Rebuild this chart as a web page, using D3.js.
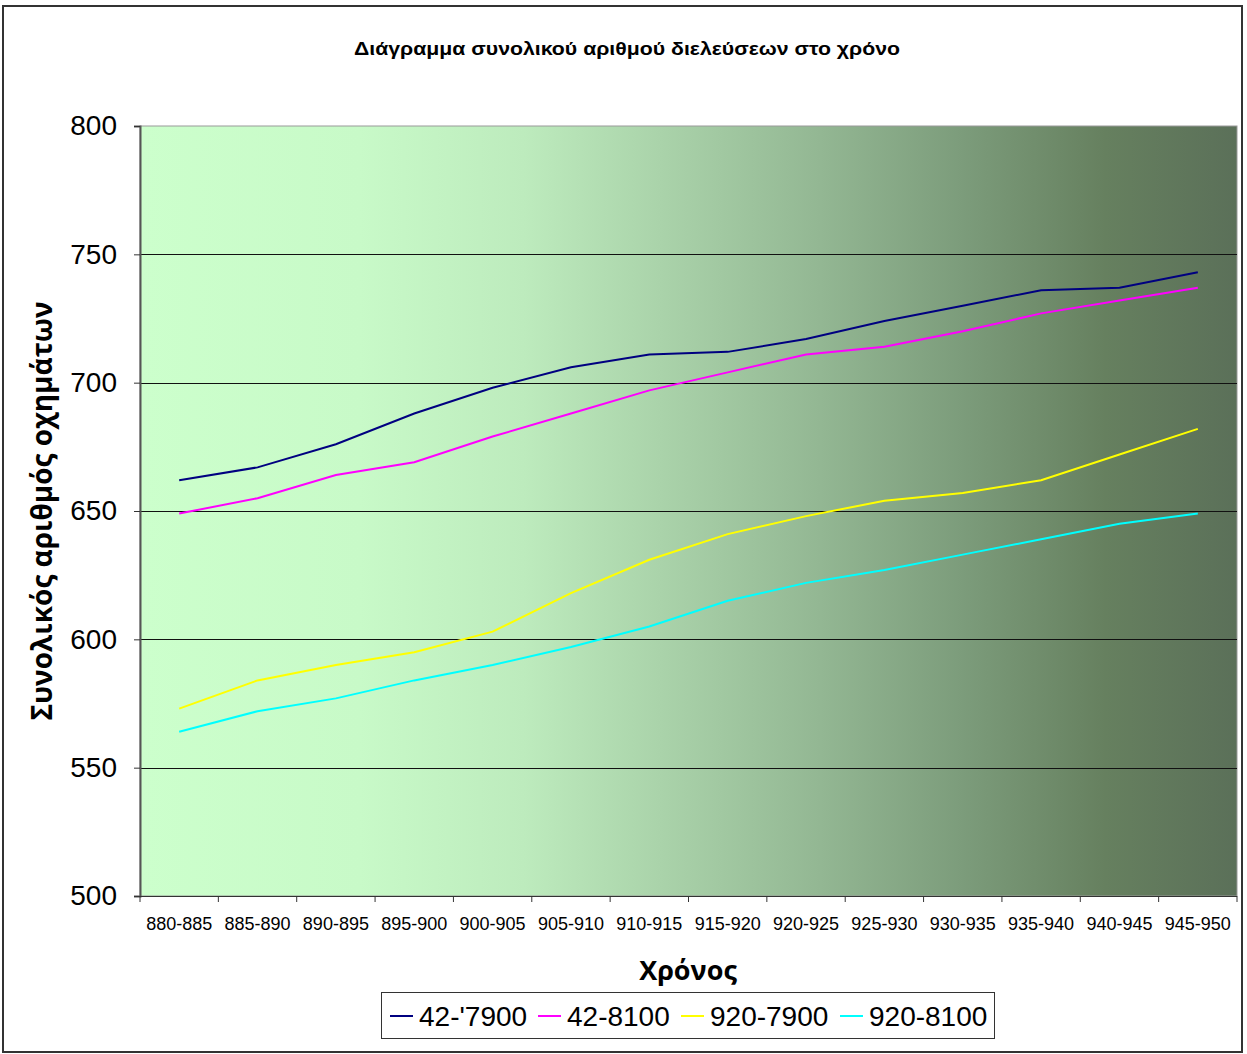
<!DOCTYPE html>
<html>
<head>
<meta charset="utf-8">
<script src="https://cdn.jsdelivr.net/npm/d3@7"></script>
<style>
  html, body { margin: 0; padding: 0; background: #fff; }
  svg { display: block; }
</style>
</head>
<body>
<script>
// Five-year periods on the horizontal axis
const periods = ["880-885","885-890","890-895","895-900","900-905","905-910","910-915",
  "915-920","920-925","925-930","930-935","935-940","940-945","945-950"];

// Total vehicle counts per scenario
const s42_7900  = [662,667,676,688,698,706,711,712,717,724,730,736,737,743];
const s42_8100  = [649,655,664,669,679,688,697,704,711,714,720,727,732,737];
const s920_7900 = [573,584,590,595,603,618,631,641,648,654,657,662,672,682];
const s920_8100 = [564,572,577,584,590,597,605,615,622,627,633,639,645,649];

const seriesNames = ["42-'7900","42-8100","920-7900","920-8100"];
const seriesColors = ["#000080","#ff00ff","#ffff00","#00ffff"];
const yTicks = [500,550,600,650,700,750,800];

const series = [s42_7900, s42_8100, s920_7900, s920_8100].map((v, i) => ({
  name: seriesNames[i], color: seriesColors[i], values: v
}));

const W = 1247, H = 1054;
const plot = { left: 140, right: 1237, top: 126, bottom: 896 };

const svg = d3.select("body").append("svg").attr("width", W).attr("height", H);

// Outer chart frame
svg.append("rect").attr("x", 3).attr("y", 6).attr("width", 1239).attr("height", 1046)
  .attr("fill", "none").attr("stroke", "#333").attr("stroke-width", 2);

// Background gradient of the plot area
const defs = svg.append("defs");
const grad = defs.append("linearGradient").attr("id", "bg").attr("x1", "0").attr("x2", "1").attr("y1", "0").attr("y2", "0");
[[0, "#ccffcc"], [0.2, "#c8fac8"], [0.35, "#bdebbd"], [0.5, "#a6cea6"], [0.62, "#93b793"],
 [0.75, "#7c9c7b"], [0.88, "#66805f"], [1, "#5b7059"]].forEach(([o, c]) =>
  grad.append("stop").attr("offset", o).attr("stop-color", c));

const x = d3.scaleBand().domain(periods).range([plot.left, plot.right]).padding(0);
const y = d3.scaleLinear().domain([500, 800]).range([plot.bottom, plot.top]);

svg.append("rect").attr("x", plot.left).attr("y", plot.top)
  .attr("width", plot.right - plot.left).attr("height", plot.bottom - plot.top)
  .attr("fill", "url(#bg)").attr("stroke", "#999").attr("stroke-width", 1);

// Horizontal gridlines
svg.append("g").selectAll("line").data(yTicks.filter(t => t > 500 && t < 800)).join("line")
  .attr("x1", plot.left).attr("x2", plot.right)
  .attr("y1", d => Math.round(y(d)) + 0.5).attr("y2", d => Math.round(y(d)) + 0.5)
  .attr("stroke", "#111").attr("stroke-width", 1);

// Y axis
const yAxis = svg.append("g").attr("transform", `translate(${plot.left},0)`)
  .call(d3.axisLeft(y).tickValues(yTicks).tickSize(6).tickPadding(17));
yAxis.select(".domain").attr("stroke", "#555").attr("stroke-width", 2);
yAxis.selectAll(".tick line").attr("stroke", "#333");
yAxis.selectAll("text").attr("font-family", "Liberation Sans, Arial, sans-serif")
  .attr("font-size", 28).attr("fill", "#000");

// X axis with ticks on category boundaries
const xAxis = svg.append("g").attr("transform", `translate(0,${plot.bottom})`);
xAxis.append("line").attr("x1", plot.left).attr("x2", plot.right)
  .attr("y1", 0.5).attr("y2", 0.5).attr("stroke", "#333");
const bounds = periods.map(p => x(p)).concat([plot.right]);
xAxis.selectAll("line.tk").data(bounds).join("line").attr("class", "tk")
  .attr("x1", d => d).attr("x2", d => d).attr("y1", 0).attr("y2", 6).attr("stroke", "#333");
xAxis.selectAll("text").data(periods).join("text")
  .attr("x", d => x(d) + x.bandwidth() / 2).attr("y", 34)
  .attr("text-anchor", "middle").attr("font-family", "Liberation Sans, Arial, sans-serif")
  .attr("font-size", 18).attr("fill", "#000").text(d => d);

// Series lines
const line = d3.line().x((d, i) => x(periods[i]) + x.bandwidth() / 2).y(d => y(d));
svg.append("g").selectAll("path").data(series).join("path")
  .attr("d", d => line(d.values)).attr("fill", "none")
  .attr("stroke", d => d.color).attr("stroke-width", 2);

// Titles
svg.append("text").attr("x", 627).attr("y", 55).attr("text-anchor", "middle")
  .attr("font-family", "Liberation Sans, Arial, sans-serif").attr("font-weight", "bold")
  .attr("font-size", 18).attr("textLength", 546).attr("lengthAdjust", "spacingAndGlyphs")
  .text("Διάγραμμα συνολικού αριθμού διελεύσεων στο χρόνο");

svg.append("text").attr("transform", "translate(52,511) rotate(-90)").attr("text-anchor", "middle")
  .attr("font-family", "Open Sans, DejaVu Sans, sans-serif").attr("font-weight", "bold")
  .attr("font-size", 28).text("Συνολικός αριθμός οχημάτων");

svg.append("text").attr("x", 688).attr("y", 980).attr("text-anchor", "middle")
  .attr("font-family", "Open Sans, DejaVu Sans, sans-serif").attr("font-weight", "bold")
  .attr("font-size", 27).text("Χρόνος");

// Legend
const lg = svg.append("g");
lg.append("rect").attr("x", 381.5).attr("y", 992.5).attr("width", 613).attr("height", 46)
  .attr("fill", "#fff").attr("stroke", "#333");
const legX = [390, 538, 681, 840];
series.forEach((s, i) => {
  lg.append("line").attr("x1", legX[i]).attr("x2", legX[i] + 23)
    .attr("y1", 1016).attr("y2", 1016).attr("stroke", s.color).attr("stroke-width", 2);
  lg.append("text").attr("x", legX[i] + 29).attr("y", 1026)
    .attr("font-family", "Liberation Sans, Arial, sans-serif").attr("font-size", 28)
    .text(s.name);
});
</script>
</body>
</html>
